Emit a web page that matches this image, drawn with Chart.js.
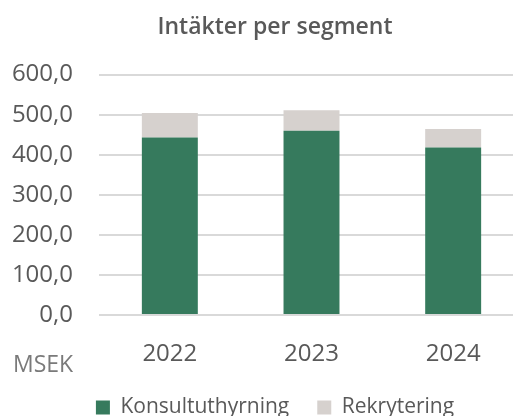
<!DOCTYPE html>
<html>
<head>
<meta charset="utf-8">
<script src="https://cdn.jsdelivr.net/npm/chart.js@4/dist/chart.umd.min.js"></script>
<style>
  html, body { margin: 0; padding: 0; background: #fff; overflow: hidden; }
  #wrap { position: relative; width: 513px; height: 416px; overflow: hidden; }
  #c { position: absolute; left: 0; top: 0; }
  #unit { position: absolute; left: 13px; top: 350px; font: 23px "Open Sans", sans-serif; color: #7a7a7a; line-height: 26px; }
</style>
</head>
<body>
<div id="wrap">
  <canvas id="c" width="550" height="428"></canvas>
  <div id="unit">MSEK</div>
</div>
<script>
const categories = ["2022", "2023", "2024"];
const konsultuthyrning = [443, 460, 418];
const rekrytering = [61, 51, 46];
const yTicks = [0, 100, 200, 300, 400, 500, 600];
const titleText = "Intäkter per segment";
const seriesNames = ["Konsultuthyrning", "Rekrytering"];

const FONT = '"Open Sans", sans-serif';
const PLOT_BOTTOM = 315;

new Chart(document.getElementById('c'), {
  type: 'bar',
  data: {
    labels: categories,
    datasets: [
      { label: seriesNames[0], data: konsultuthyrning, backgroundColor: '#367a5d', barPercentage: 0.395, categoryPercentage: 1 },
      { label: seriesNames[1], data: rekrytering, backgroundColor: '#d6d1ce', barPercentage: 0.395, categoryPercentage: 1 }
    ]
  },
  options: {
    responsive: false,
    animation: false,
    layout: { padding: 0 },
    plugins: {
      title: {
        display: true, text: titleText, color: '#595959',
        font: { family: FONT, size: 23, weight: '600' },
        padding: { top: 14, bottom: 33 }
      },
      legend: {
        position: 'bottom',
        labels: {
          color: '#595959', font: { family: FONT, size: 21 },
          boxWidth: 14, boxHeight: 14, padding: 28
        }
      },
      tooltip: { enabled: false }
    },
    scales: {
      x: {
        stacked: true,
        grid: { display: false },
        border: { display: false },
        ticks: { color: '#595959', font: { family: FONT, size: 24 }, padding: 17 },
        afterFit: (s) => {
          const lg = s.chart.legend;
          const lh = (lg && lg.height) ? lg.height : 60;
          s.height = s.chart.height - lh - PLOT_BOTTOM;
        }
      },
      y: {
        stacked: true,
        min: 0, max: 600,
        afterBuildTicks: (s) => { s.ticks = yTicks.map(v => ({ value: v })); },
        grid: { color: '#d9d9d9', lineWidth: 2, drawTicks: false },
        border: { display: false },
        ticks: {
          color: '#595959', font: { family: FONT, size: 24 }, padding: 26,
          callback: (v) => v.toFixed(1).replace('.', ',')
        },
        afterFit: (s) => { s.width = 99; }
      },
      rightSpace: {
        position: 'right',
        grid: { display: false },
        border: { display: false },
        ticks: { display: false },
        afterFit: (s) => { s.width = 26; }
      }
    }
  }
});
</script>
</body>
</html>
